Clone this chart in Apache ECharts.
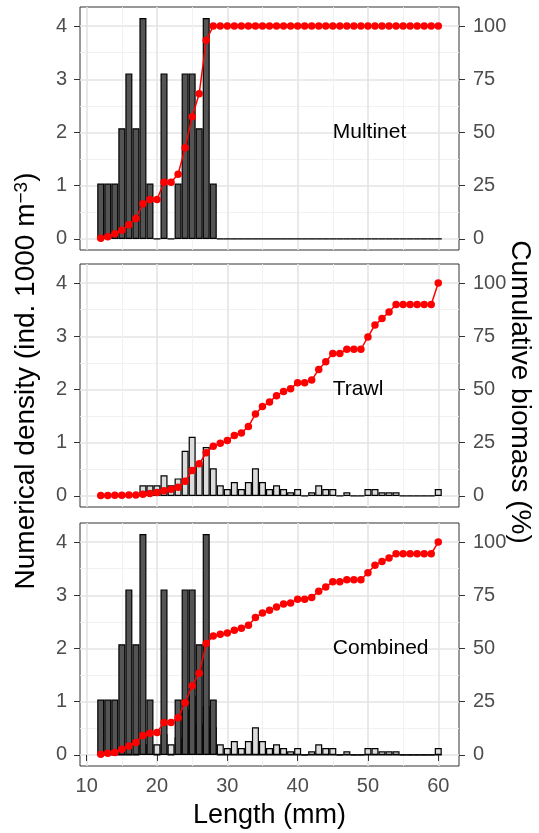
<!DOCTYPE html>
<html>
<head>
<meta charset="utf-8">
<script src="https://cdn.jsdelivr.net/npm/echarts@6/dist/echarts.min.js"></script>
<style>
  html, body { margin: 0; padding: 0; background: #fff; }
  #chart { width: 539px; height: 833px; }
</style>
</head>
<body>
<div id="chart"></div>
<script>
// length classes (mm)
const lengths = [12, 13, 14, 15, 16, 17, 18, 19, 20, 21, 22, 23, 24, 25, 26, 27, 28, 29, 30, 31,
  32, 33, 34, 35, 36, 37, 38, 39, 40, 41, 42, 43, 44, 45, 46, 47, 48, 49, 50, 51,
  52, 53, 54, 55, 56, 57, 58, 59, 60]

// numerical density (ind. 1000 m-3)
const multinetDensity = [1.04, 1.04, 1.04, 2.08, 3.11, 2.08, 4.15, 1.04, 0, 3.11, 0, 1.04, 3.11, 3.11, 2.08, 4.15, 1.04, 0, 0, 0,
  0, 0, 0, 0, 0, 0, 0, 0, 0, 0, 0, 0, 0, 0, 0, 0, 0, 0, 0, 0,
  0, 0, 0, 0, 0, 0, 0, 0, 0]
const trawlDensity = [0, 0, 0, 0, 0, 0, 0.2, 0.2, 0.2, 0.39, 0.2, 0.33, 0.85, 1.11, 0.59, 0.92, 0.52, 0.2, 0.13, 0.26,
  0.13, 0.26, 0.52, 0.26, 0.13, 0.2, 0.13, 0.07, 0.13, 0, 0.07, 0.2, 0.13, 0.13, 0, 0.07, 0, 0, 0.13, 0.13,
  0.07, 0.07, 0.07, 0, 0, 0, 0, 0, 0.13]

// cumulative biomass (%)
const multinetCum = [0.3, 1, 2.4, 4.1, 6.7, 9.6, 16.5, 18.5, 18.5, 26.6, 26.6, 30.4, 42.8, 57.4, 68.2, 93.3, 100, 100, 100, 100,
  100, 100, 100, 100, 100, 100, 100, 100, 100, 100, 100, 100, 100, 100, 100, 100, 100, 100, 100, 100,
  100, 100, 100, 100, 100, 100, 100, 100, 100]
const trawlCum = [0.2, 0.2, 0.3, 0.3, 0.4, 0.5, 0.8, 1.2, 1.6, 2.5, 3.1, 4.1, 6.9, 12, 15.1, 20.3, 23.4, 24.8, 26, 28.4,
  29.6, 32.6, 38.5, 42, 44.1, 47.1, 49.1, 50.4, 53.2, 53.2, 54.4, 59.4, 63, 66.9, 66.9, 68.9, 68.9, 68.9, 74.7, 80.3,
  83.3, 86.4, 89.9, 89.9, 89.9, 89.9, 89.9, 89.9, 100]
const combinedCum = [0.3, 0.8, 1.2, 2.7, 4.2, 5.9, 9.1, 10.2, 10.6, 15.3, 15.3, 17.5, 24.5, 32.5, 38.4, 52.3, 55.9, 56.7, 57.3, 58.6,
  59.5, 60.9, 64.5, 66.7, 68, 69.5, 70.9, 71.4, 73.1, 73.1, 73.9, 76.9, 78.9, 81.3, 81.3, 82.3, 82.3, 82.3, 85.6, 89.1,
  90.8, 92.5, 94.5, 94.5, 94.5, 94.5, 94.5, 94.5, 100]

// tick labels
const xTicks = [10, 20, 30, 40, 50, 60]
const xMinor = [15, 25, 35, 45, 55]
const densityTicks = [0, 1, 2, 3, 4]
const densityMinor = [0.5, 1.5, 2.5, 3.5]
const biomassTicks = [0, 25, 50, 75, 100]

const panelNames = ['Multinet', 'Trawl', 'Combined']

const font = 'Liberation Sans, Arial, sans-serif'
const darkBar = '#545454'
const lightBar = '#dcdcdc'
const red = '#ff0000'
const majorGrid = { color: '#e4e4e4', width: 1.6 }
const minorGrid = { color: '#f0f0f0', width: 0.9 }

const pairs = arr => lengths.map((x, i) => [x, arr[i]])

const panelTops = [7, 264, 523]
const grids = panelTops.map(t => ({
  left: 80, right: 80, top: t, height: 243,
  show: true, borderColor: '#333', borderWidth: 1, backgroundColor: 'transparent'
}))

const xAxes = []
const yAxes = []
panelTops.forEach((t, i) => {
  const bottom = i === 2
  xAxes.push({
    type: 'value', gridIndex: i, min: 9.05, max: 62.95,
    axisLine: { show: false },
    axisTick: { show: bottom, length: 6, customValues: xTicks, lineStyle: { color: '#333' } },
    axisLabel: { show: bottom, customValues: xTicks, margin: 10, color: '#4d4d4d', fontSize: 20, fontFamily: font },
    splitLine: { show: true, lineStyle: majorGrid },
    name: bottom ? 'Length (mm)' : '',
    nameLocation: 'middle', nameGap: 36,
    nameTextStyle: { color: '#000', fontSize: 27, fontFamily: font }
  })
  xAxes.push({
    type: 'value', gridIndex: i, position: 'top', min: 9.05, max: 62.95,
    axisLine: { show: false },
    axisTick: { show: false, customValues: xMinor },
    axisLabel: { show: false, customValues: xMinor },
    splitLine: { show: true, lineStyle: minorGrid }
  })
  yAxes.push({
    type: 'value', gridIndex: i, position: 'left', min: -0.2075, max: 4.3575,
    axisLine: { show: false },
    axisTick: { show: true, length: 6, customValues: densityTicks, lineStyle: { color: '#333' } },
    axisLabel: { customValues: densityTicks, margin: 13, color: '#4d4d4d', fontSize: 20, fontFamily: font },
    splitLine: { show: true, lineStyle: majorGrid }
  })
  yAxes.push({
    type: 'value', gridIndex: i, position: 'right', min: -5.1875, max: 108.9375,
    axisLine: { show: false },
    axisTick: { show: true, length: 6, customValues: biomassTicks, lineStyle: { color: '#333' } },
    axisLabel: { customValues: biomassTicks, margin: 14, color: '#4d4d4d', fontSize: 20, fontFamily: font },
    splitLine: { show: false }
  })
  yAxes.push({
    type: 'value', gridIndex: i, position: 'left', min: -0.2075, max: 4.3575,
    axisLine: { show: false },
    axisTick: { show: false, customValues: densityMinor },
    axisLabel: { show: false, customValues: densityMinor },
    splitLine: { show: true, lineStyle: minorGrid }
  })
})

function barSeries(panel, data, fill, withLabel) {
  const s = {
    type: 'bar',
    xAxisIndex: panel * 2,
    yAxisIndex: panel * 3,
    data: pairs(data),
    barWidth: '100%',
    barGap: '-100%',
    itemStyle: { color: fill, borderColor: '#000', borderWidth: 1.2 },
    z: 2
  }
  if (withLabel) {
    s.markPoint = {
      symbol: 'circle', symbolSize: 0, silent: true,
      data: [{ coord: [45, 2] }],
      label: {
        show: true, position: 'right', distance: 0,
        formatter: panelNames[panel],
        color: '#000', fontSize: 21, fontFamily: font
      }
    }
  }
  return s
}

function lineSeries(panel, data) {
  return {
    type: 'line',
    xAxisIndex: panel * 2,
    yAxisIndex: panel * 3 + 1,
    data: pairs(data),
    symbol: 'circle',
    symbolSize: 7.5,
    itemStyle: { color: red },
    lineStyle: { color: red, width: 1.5 },
    z: 5
  }
}

const series = [
  barSeries(0, multinetDensity, darkBar, true),
  lineSeries(0, multinetCum),
  barSeries(1, trawlDensity, lightBar, true),
  lineSeries(1, trawlCum),
  barSeries(2, trawlDensity, lightBar, true),
  barSeries(2, multinetDensity, darkBar, false),
  lineSeries(2, combinedCum)
]

const chart = echarts.init(document.getElementById('chart'), null, { renderer: 'canvas' })
chart.setOption({
  animation: false,
  backgroundColor: '#fff',
  grid: grids,
  xAxis: xAxes,
  yAxis: yAxes,
  series: series,
  graphic: [
    {
      type: 'text', x: 26, y: 381, rotation: Math.PI / 2,
      style: {
        text: 'Numerical density (ind. 1000 m{sup|−3})',
        align: 'center', verticalAlign: 'middle',
        fill: '#000', fontSize: 28, fontFamily: font,
        rich: {
          sup: { fontSize: 19, fontFamily: font, fill: '#000', verticalAlign: 'top', lineHeight: 19 }
        }
      }
    },
    {
      type: 'text', x: 520, y: 392, rotation: -Math.PI / 2,
      style: {
        text: 'Cumulative biomass (%)',
        align: 'center', verticalAlign: 'middle',
        fill: '#000', fontSize: 28, fontFamily: font
      }
    }
  ]
})
</script>
</body>
</html>
